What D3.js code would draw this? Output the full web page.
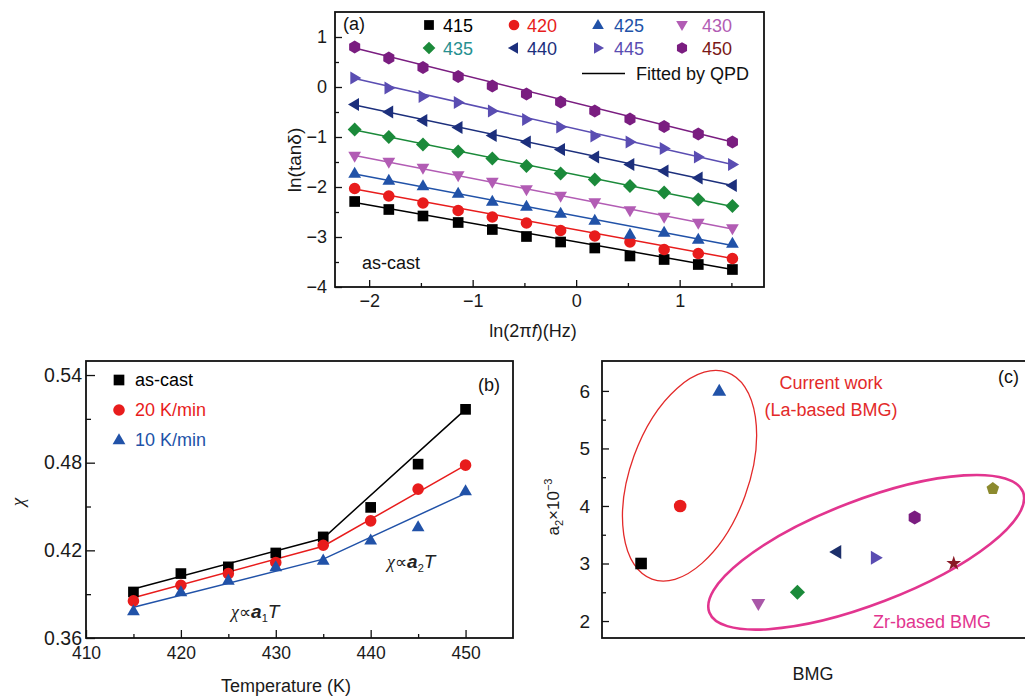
<!DOCTYPE html>
<html>
<head>
<meta charset="utf-8">
<script src="https://cdn.jsdelivr.net/npm/d3@7"></script>
<style>
  html, body { margin: 0; padding: 0; background: #fff; }
  svg { display: block; font-family: "Liberation Sans", Arial, sans-serif; }
</style>
</head>
<body>
<svg id="chart" width="1025" height="696"></svg>
<script>
// ---------------- DATA ----------------
// Panel (a): ln(tan δ) vs ln(2πf)
const lnOmega = [-2.14, -1.81, -1.48, -1.14, -0.81, -0.48, -0.15, 0.18, 0.52, 0.85, 1.18, 1.51];
const seriesTemps = ["415", "420", "425", "430", "435", "440", "445", "450"];
const lnTan415 = [-2.29, -2.45, -2.58, -2.71, -2.85, -2.99, -3.10, -3.22, -3.38, -3.45, -3.55, -3.65];
const lnTan420 = [-2.03, -2.18, -2.32, -2.47, -2.60, -2.72, -2.87, -2.98, -3.10, -3.25, -3.33, -3.43];
const lnTan425 = [-1.73, -1.87, -1.98, -2.13, -2.29, -2.39, -2.53, -2.67, -2.95, -2.91, -3.05, -3.13];
const lnTan430 = [-1.38, -1.50, -1.62, -1.77, -1.90, -2.05, -2.18, -2.31, -2.47, -2.60, -2.72, -2.83];
const lnTan435 = [-0.85, -1.00, -1.15, -1.29, -1.43, -1.58, -1.73, -1.85, -1.98, -2.11, -2.25, -2.38];
const lnTan440 = [-0.35, -0.50, -0.67, -0.81, -0.97, -1.10, -1.25, -1.40, -1.55, -1.68, -1.82, -1.97];
const lnTan445 = [0.18, -0.02, -0.19, -0.31, -0.48, -0.65, -0.80, -0.98, -1.10, -1.23, -1.40, -1.55];
const lnTan450 = [0.80, 0.58, 0.39, 0.21, 0.02, -0.14, -0.30, -0.48, -0.64, -0.79, -0.94, -1.10];
// QPD fitted lines: value at first and last frequency
const fitStart = [-2.31, -2.04, -1.74, -1.37, -0.86, -0.36, 0.17, 0.78];
const fitEnd   = [-3.65, -3.43, -3.17, -2.84, -2.39, -1.97, -1.55, -1.10];

// Panel (b): χ vs temperature
const tempK = [415, 420, 425, 430, 435, 440, 445, 450];
const chiAsCast = [0.3915, 0.4041, 0.4087, 0.4182, 0.4292, 0.4494, 0.4790, 0.5165];
const chi20 = [0.3854, 0.3961, 0.4041, 0.4117, 0.4235, 0.4402, 0.4619, 0.4783];
const chi10 = [0.3785, 0.3915, 0.3995, 0.4087, 0.4132, 0.4269, 0.4361, 0.4607];
const fitKnotsT = [415, 435, 450];
const fitAsCast = [0.3935, 0.4283, 0.5165];
const fit20 = [0.3875, 0.4228, 0.4783];
const fit10 = [0.3810, 0.4140, 0.4590];
const conditionLabels = ["as-cast", "20 K/min", "10 K/min"];

// Panel (c): a2 ×10^-3 for different BMGs
const bmgIndex = [1, 2, 3, 4, 5, 6, 7, 8, 9, 10];
const a2Values = [3.0, 4.0, 6.0, 2.3, 2.5, 3.2, 3.1, 3.8, 3.0, 4.3];

// ---------------- STYLES ----------------
const cA = ["#000000", "#e81c1c", "#2152a8", "#b25cb4", "#1b8a3a", "#1c2f7c", "#5a4db2", "#7a1d80"];
const legendTextColor = ["#000000", "#e81c1c", "#2152a8", "#b25cb4", "#279090", "#1c2f7c", "#5a4db2", "#7a1717"];
const shapesA = ["square", "circle", "triUp", "triDown", "diamond", "triLeft", "triRight", "hexagon"];
const cB = ["#000000", "#e81c1c", "#2152a8"];
const shapesB = ["square", "circle", "triUp"];
const cC = ["#000000", "#e81c1c", "#2152a8", "#a957a8", "#1b8a3a", "#1c2f6a", "#5a4db2", "#7a1d80", "#8a1a26", "#8c8a2e"];
const shapesC = ["square", "circle", "triUp", "triDown", "diamond", "triLeft", "triRight", "hexagon", "star", "pentagon"];

function poly(pts) { return "M" + pts.map(p => p[0].toFixed(2) + "," + p[1].toFixed(2)).join("L") + "Z"; }
function regPoly(n, r, rot) {
  const pts = [];
  for (let i = 0; i < n; i++) { const a = rot + i * 2 * Math.PI / n; pts.push([r * Math.cos(a), r * Math.sin(a)]); }
  return poly(pts);
}
function shapePath(s, r) {
  switch (s) {
    case "square": return poly([[-r*0.92,-r*0.92],[r*0.92,-r*0.92],[r*0.92,r*0.92],[-r*0.92,r*0.92]]);
    case "circle": return d3.arc()({innerRadius:0, outerRadius:r, startAngle:0, endAngle:2*Math.PI});
    case "triUp": return poly([[0,-r*1.15],[r*1.1,r*0.75],[-r*1.1,r*0.75]]);
    case "triDown": return poly([[0,r*1.15],[r*1.1,-r*0.75],[-r*1.1,-r*0.75]]);
    case "triLeft": return poly([[-r*1.15,0],[r*0.75,-r*1.1],[r*0.75,r*1.1]]);
    case "triRight": return poly([[r*1.15,0],[-r*0.75,-r*1.1],[-r*0.75,r*1.1]]);
    case "diamond": return poly([[0,-r*1.2],[r*1.2,0],[0,r*1.2],[-r*1.2,0]]);
    case "hexagon": return regPoly(6, r*1.1, -Math.PI/2);
    case "pentagon": return regPoly(5, r*1.05, -Math.PI/2);
    case "star": return d3.symbol(d3.symbolStar, r*r*1.7)();
  }
}

const svg = d3.select("#chart");
const FS = 18;

function frame(g, x0, y0, x1, y1) {
  g.append("rect").attr("x", x0).attr("y", y0).attr("width", x1 - x0).attr("height", y1 - y0)
    .attr("fill", "none").attr("stroke", "#111").attr("stroke-width", 1.8);
}
function styleAxis(sel, fs) {
  sel.select(".domain").remove();
  sel.selectAll(".tick line").attr("stroke", "#111").attr("stroke-width", 1.3);
  sel.selectAll(".tick text").attr("font-size", fs || FS).attr("fill", "#1a1a1a")
     .attr("font-family", "Liberation Sans, Arial, sans-serif");
}

// ================= PANEL (a) =================
{
  const L = 335, T = 12, R = 764, B = 287;
  const x = d3.scaleLinear().domain([-2.33, 1.815]).range([L, R]);
  const y = d3.scaleLinear().domain([-4, 1.5]).range([B, T]);
  const g = svg.append("g");
  const seriesA = [lnTan415, lnTan420, lnTan425, lnTan430, lnTan435, lnTan440, lnTan445, lnTan450];

  g.append("g").attr("transform", `translate(0,${B})`)
    .call(d3.axisBottom(x).tickValues([-2, -1, 0, 1]).tickSize(-7).tickPadding(7).tickFormat(d => d3.format("d")(d).replace("-", "−")))
    .call(styleAxis);
  g.append("g").attr("transform", `translate(0,${B})`)
    .call(d3.axisBottom(x).tickValues([-1.5, -0.5, 0.5, 1.5]).tickSize(-4).tickFormat(""))
    .call(styleAxis);
  g.append("g").attr("transform", `translate(${L},0)`)
    .call(d3.axisLeft(y).tickValues([-4, -3, -2, -1, 0, 1]).tickSize(-7).tickPadding(8).tickFormat(d => d3.format("d")(d).replace("-", "−")))
    .call(styleAxis);
  g.append("g").attr("transform", `translate(${L},0)`)
    .call(d3.axisLeft(y).tickValues([-3.5, -2.5, -1.5, -0.5, 0.5]).tickSize(-4).tickFormat(""))
    .call(styleAxis);

  const x0 = lnOmega[0], x1 = lnOmega[lnOmega.length - 1];
  seriesA.forEach((s, i) => {
    g.append("line").attr("x1", x(x0)).attr("y1", y(fitStart[i])).attr("x2", x(x1)).attr("y2", y(fitEnd[i]))
      .attr("stroke", cA[i]).attr("stroke-width", 1.5);
  });
  seriesA.forEach((s, i) => {
    g.append("g").selectAll("path").data(s).join("path")
      .attr("transform", (d, j) => `translate(${x(lnOmega[j])},${y(d)})`)
      .attr("d", shapePath(shapesA[i], 5.8)).attr("fill", cA[i]);
  });

  frame(g, L, T, R, B);

  const legX = [429, 514, 598, 682], legTX = [443, 527, 614, 702], legY = [25, 48];
  seriesTemps.forEach((t, i) => {
    const col = i % 4, row = Math.floor(i / 4);
    g.append("path").attr("transform", `translate(${legX[col]},${legY[row]})`)
      .attr("d", shapePath(shapesA[i], 5.3)).attr("fill", cA[i]);
    g.append("text").attr("x", legTX[col]).attr("y", legY[row] + 6.5).attr("font-size", FS)
      .attr("fill", legendTextColor[i]).text(t);
  });
  g.append("line").attr("x1", 582).attr("x2", 625).attr("y1", 73.5).attr("y2", 73.5).attr("stroke", "#000").attr("stroke-width", 1.6);
  g.append("text").attr("x", 636).attr("y", 80).attr("font-size", FS).attr("fill", "#111").text("Fitted by QPD");

  g.append("text").attr("x", 343).attr("y", 30).attr("font-size", FS).attr("fill", "#111").text("(a)");
  g.append("text").attr("x", 362).attr("y", 269).attr("font-size", FS).attr("fill", "#111").text("as-cast");

  const xt = g.append("text").attr("x", 533).attr("y", 337).attr("text-anchor", "middle").attr("font-size", FS).attr("fill", "#1a1a1a");
  xt.append("tspan").text("ln(2π");
  xt.append("tspan").attr("font-style", "italic").text("f");
  xt.append("tspan").text(")(Hz)");
  g.append("text").attr("transform", "translate(294,160) rotate(-90)").attr("dy", "0.35em")
    .attr("text-anchor", "middle").attr("font-size", 19).attr("fill", "#1a1a1a").text("ln(tanδ)");
}

// ================= PANEL (b) =================
{
  const L = 86, T = 361, R = 513, B = 638;
  const x = d3.scaleLinear().domain([410, 455]).range([L, R]);
  const y = d3.scaleLinear().domain([0.36, 0.5496]).range([B, T]);
  const g = svg.append("g");

  g.append("g").attr("transform", `translate(0,${B})`)
    .call(d3.axisBottom(x).tickValues([410, 420, 430, 440, 450]).tickSize(-8).tickPadding(9).tickFormat(d3.format("d")))
    .call(styleAxis, 17.5);
  g.append("g").attr("transform", `translate(0,${B})`)
    .call(d3.axisBottom(x).tickValues([415, 425, 435, 445]).tickSize(-4).tickFormat(""))
    .call(styleAxis);
  g.append("g").attr("transform", `translate(${L},0)`)
    .call(d3.axisLeft(y).tickValues([0.36, 0.42, 0.48, 0.54]).tickSize(-9).tickPadding(4).tickFormat(d3.format(".2f")))
    .call(styleAxis, 19.5);
  g.append("g").attr("transform", `translate(${L},0)`)
    .call(d3.axisLeft(y).tickValues([0.39, 0.45, 0.51]).tickSize(-5).tickFormat(""))
    .call(styleAxis);

  const seriesB = [chiAsCast, chi20, chi10];
  const fitsB = [fitAsCast, fit20, fit10];
  const line = d3.line().x((d, i) => x(fitKnotsT[i])).y(d => y(d));
  fitsB.forEach((f, i) => {
    g.append("path").attr("d", line(f)).attr("fill", "none").attr("stroke", cB[i]).attr("stroke-width", 1.5);
  });
  seriesB.forEach((s, i) => {
    g.append("g").selectAll("path").data(s).join("path")
      .attr("transform", (d, j) => `translate(${x(tempK[j])},${y(d)})`)
      .attr("d", shapePath(shapesB[i], 5.8)).attr("fill", cB[i]);
  });
  frame(g, L, T, R, B);

  conditionLabels.forEach((lab, i) => {
    const yy = 380 + i * 30;
    g.append("path").attr("transform", `translate(119,${yy})`).attr("d", shapePath(shapesB[i], 5.8)).attr("fill", cB[i]);
    g.append("text").attr("x", 135).attr("y", yy + 6).attr("font-size", FS).attr("fill", cB[i]).text(lab);
  });
  g.append("text").attr("x", 478).attr("y", 391).attr("font-size", FS).attr("fill", "#111").text("(b)");

  function chiLabel(xp, yp, sub) {
    const t = g.append("text").attr("x", xp).attr("y", yp).attr("font-size", FS).attr("fill", "#222");
    t.append("tspan").attr("font-family", "Liberation Serif, serif").attr("font-style", "italic").text("χ");
    t.append("tspan").attr("font-family", "DejaVu Sans, sans-serif").attr("font-size", 17).text("∝");
    t.append("tspan").attr("font-weight", "bold").attr("font-style", "italic").attr("font-size", 19).text("a");
    t.append("tspan").attr("font-size", 11).attr("dy", 4).text(sub);
    t.append("tspan").attr("font-style", "italic").attr("font-size", 19).attr("dy", -4).text("T");
  }
  chiLabel(231, 618, "1");
  chiLabel(387, 568, "2");

  g.append("text").attr("x", 286).attr("y", 692).attr("text-anchor", "middle").attr("font-size", FS).attr("fill", "#1a1a1a").text("Temperature (K)");
  g.append("text").attr("transform", "translate(17,502) rotate(-90)").attr("dy", "0.35em").attr("text-anchor", "middle")
    .attr("font-family", "Liberation Serif, serif").attr("font-style", "italic").attr("font-size", 19).attr("fill", "#222").text("χ");
}

// ================= PANEL (c) =================
{
  const L = 602, T = 361, R = 1071, B = 638;
  const x = d3.scaleLinear().domain([0, 12]).range([L, R]);
  const y = d3.scaleLinear().domain([1.705, 6.52]).range([B, T]);
  const g = svg.append("g");

  g.append("g").attr("transform", `translate(${L},0)`)
    .call(d3.axisLeft(y).tickValues([2, 3, 4, 5, 6]).tickSize(-7).tickPadding(12).tickFormat(d3.format("d")))
    .call(styleAxis, 19);
  g.append("g").attr("transform", `translate(${L},0)`)
    .call(d3.axisLeft(y).tickValues([2.5, 3.5, 4.5, 5.5]).tickSize(-4).tickFormat(""))
    .call(styleAxis);

  g.append("ellipse").attr("transform", `translate(${x(2.24)},${y(4.525)}) rotate(20)`)
    .attr("rx", 59).attr("ry", 110).attr("fill", "none").attr("stroke", "#e32a2a").attr("stroke-width", 1.3);
  g.append("ellipse").attr("transform", `translate(${x(6.76)},${y(3.195)}) rotate(-21)`)
    .attr("rx", 168).attr("ry", 52).attr("fill", "none").attr("stroke", "#e2358f").attr("stroke-width", 2.6);

  g.append("g").selectAll("path").data(a2Values).join("path")
    .attr("transform", (d, i) => `translate(${x(bmgIndex[i])},${y(d)})`)
    .attr("d", (d, i) => shapePath(shapesC[i], 6.3)).attr("fill", (d, i) => cC[i]);

  frame(g, L, T, R, B);

  g.append("text").attr("x", 831).attr("y", 389).attr("text-anchor", "middle").attr("font-size", FS).attr("fill", "#e32a2a").text("Current work");
  g.append("text").attr("x", 831).attr("y", 416).attr("text-anchor", "middle").attr("font-size", FS).attr("fill", "#e32a2a").text("(La-based BMG)");
  g.append("text").attr("x", 932).attr("y", 628).attr("text-anchor", "middle").attr("font-size", FS).attr("fill", "#e2358f").text("Zr-based BMG");
  g.append("text").attr("x", 998).attr("y", 383).attr("font-size", FS).attr("fill", "#111").text("(c)");

  g.append("text").attr("x", 813).attr("y", 680).attr("text-anchor", "middle").attr("font-size", FS).attr("fill", "#1a1a1a").text("BMG");
  const yt = g.append("text").attr("transform", "translate(553,507) rotate(-90)").attr("dy", "0.35em")
    .attr("text-anchor", "middle").attr("font-size", 17).attr("fill", "#1a1a1a");
  yt.append("tspan").text("a");
  yt.append("tspan").attr("font-size", 11).attr("dy", 4).text("2");
  yt.append("tspan").attr("dy", -4).text("×10");
  yt.append("tspan").attr("font-size", 11).attr("dy", -7).text("−3");
}
</script>
</body>
</html>
